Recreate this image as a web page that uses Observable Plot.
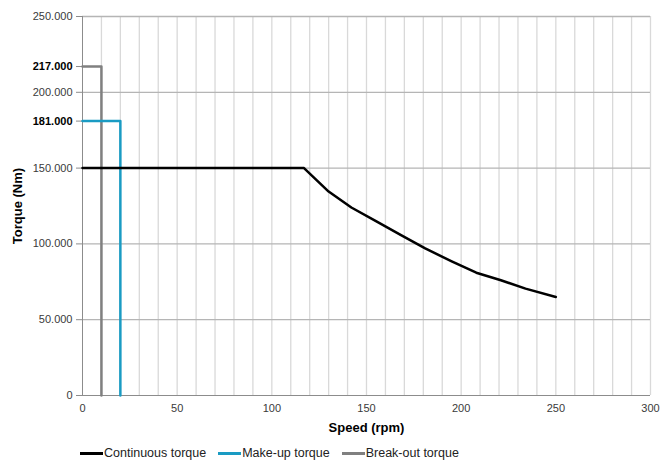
<!DOCTYPE html>
<html>
<head>
<meta charset="utf-8">
<script src="https://cdn.jsdelivr.net/npm/d3@7"></script>
<script src="https://cdn.jsdelivr.net/npm/@observablehq/plot@0.6"></script>
<style>
  body { margin: 0; background: #fff; font-family: "Liberation Sans", Arial, sans-serif; }
  #legend { display: flex; font-size: 12.5px; color: #222; margin-left: 80px; margin-top: 6px; align-items: center; }
  .item { display: flex; align-items: center; margin-right: 12px; }
  .sw { width: 23px; height: 3px; margin-right: 1px; }
</style>
</head>
<body>
<div id="chart"></div>
<div id="legend"></div>
<script>
// Continuous torque curve (speed rpm, torque Nm)
const continuousSpeed  = [0, 117, 130, 142, 155, 168, 181, 195, 208, 221, 234, 250];
const continuousTorque = [150000, 150000, 134500, 124000, 115000, 106000, 97000, 88500, 81000, 76000, 70500, 65000];
// Make-up torque
const makeupSpeed  = [0, 20, 20];
const makeupTorque = [181000, 181000, 0];
// Break-out torque
const breakoutSpeed  = [0, 10, 10];
const breakoutTorque = [217000, 217000, 0];

const seriesNames  = ["Continuous torque", "Make-up torque", "Break-out torque"];
const seriesColors = ["#000000", "#1a9bc3", "#808080"];

const yTicks     = [0, 50000, 100000, 150000, 200000, 250000];
const ratedTicks = [181000, 217000];
const xTicks     = [0, 50, 100, 150, 200, 250, 300];
const xGrid      = d3.range(10, 301, 10);

const toRows = (xs, ys) => xs.map((x, i) => ({x, y: ys[i]}));
const fmtTorque = v => v === 0 ? "0" : (Math.floor(v / 1000) + ".000");

const chart = Plot.plot({
  width: 660,
  height: 440,
  marginLeft: 82,
  marginRight: 10,
  marginTop: 16,
  marginBottom: 45,
  style: { fontFamily: "Liberation Sans, Arial, sans-serif", fontSize: "11px", color: "#333" },
  x: { domain: [0, 300] },
  y: { domain: [0, 250000] },
  marks: [
    Plot.ruleX(xGrid, { stroke: "#d9d9d9", strokeWidth: 1.3 }),
    Plot.ruleY(yTicks.slice(1), { stroke: "#b5b5b5", strokeWidth: 1.3 }),
    Plot.ruleY([0], { stroke: "#8c8c8c" }),
    Plot.ruleX([0], { stroke: "#8c8c8c", y1: 0, y2: 250000 }),
    Plot.axisY(yTicks, { tickFormat: fmtTorque, tickSize: 6, tickPadding: 4, stroke: "#8c8c8c", fill: "#3a3a3a", label: null }),
    Plot.axisY(ratedTicks, { tickFormat: fmtTorque, tickSize: 6, tickPadding: 4, stroke: "#8c8c8c", fill: "#000", fontWeight: "bold", label: null }),
    Plot.axisX(xTicks, { tickSize: 0, tickPadding: 9, fill: "#3a3a3a", label: null }),
    Plot.text(["Torque (Nm)"], { frameAnchor: "left", dx: -65, rotate: -90, textAnchor: "middle", fontWeight: "bold", fontSize: 13, fill: "#000" }),
    Plot.text(["Speed (rpm)"], { frameAnchor: "bottom", dy: 36, fontWeight: "bold", fontSize: 13, fill: "#000" }),
    Plot.line(toRows(breakoutSpeed, breakoutTorque), { x: "x", y: "y", stroke: seriesColors[2], strokeWidth: 2.5 }),
    Plot.line(toRows(makeupSpeed, makeupTorque), { x: "x", y: "y", stroke: seriesColors[1], strokeWidth: 2.5 }),
    Plot.line(toRows(continuousSpeed, continuousTorque), { x: "x", y: "y", stroke: seriesColors[0], strokeWidth: 2.5 })
  ]
});
document.getElementById("chart").appendChild(chart);

const legend = document.getElementById("legend");
seriesNames.forEach((name, i) => {
  const item = document.createElement("div");
  item.className = "item";
  const sw = document.createElement("div");
  sw.className = "sw";
  sw.style.background = seriesColors[i];
  const label = document.createElement("span");
  label.textContent = name;
  item.appendChild(sw);
  item.appendChild(label);
  legend.appendChild(item);
});
</script>
</body>
</html>
